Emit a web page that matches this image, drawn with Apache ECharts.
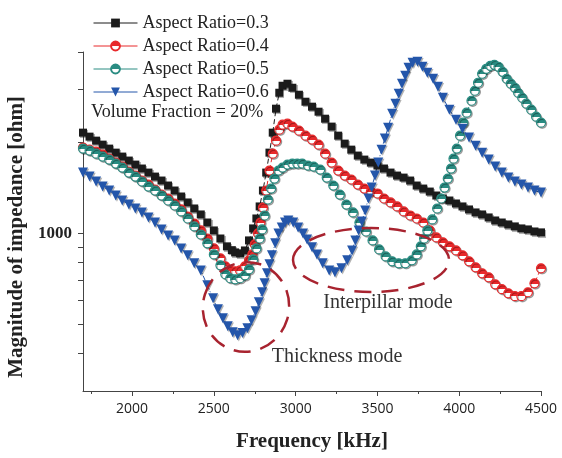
<!DOCTYPE html>
<html>
<head>
<meta charset="utf-8">
<script src="https://cdn.jsdelivr.net/npm/echarts@6/dist/echarts.min.js"></script>
<style>
  html, body { margin: 0; padding: 0; background: #fff; }
  #chart { width: 562px; height: 458px; }
</style>
</head>
<body>
<div id="chart"></div>
<script>
// ================= data (kHz / ohm) =================
const freq03 = [1700,1740,1780,1820,1860,1900,1940,1980,2020,2060,2100,2140,2180,2220,2260,2300,2340,2380,2420,2460,2500,2540,2580,
  2610,2630,2660,2690,2715,2740,2760,2780,2800,2820,2840,2860,2880,2900,2920,2950,2980,3020,3060,
  3100,3140,3180,3220,3260,3300,3340,3380,3420,3460,3500,3540,3580,3620,3660,3700,3740,3780,3820,3860,3900,3940,3980,4020,4060,4100,4140,4180,4220,4260,4300,4340,4380,4420,4460,4500]
const imp03 = [2160,2095,2032,1971,1912,1854,1799,1745,1692,1642,1592,1544,1498,1442,1388,1326,1267,1210,1156,1087,1023,962,906,
  880,865,859,878,948,1039,1121,1229,1388,1592,1854,2160,2594,2930,3091,3139,3044,2886,2736,
  2634,2535,2403,2262,2111,1986,1897,1813,1758,1718,1680,1642,1592,1556,1532,1498,1442,1409,1377,1336,1306,1286,1257,1229,1201,1174,1156,1130,1104,1087,1071,1055,1039,1031,1015,1008]

const freq04 = [1700,1740,1780,1820,1860,1900,1940,1980,2020,2060,2100,2140,2180,2220,2260,2300,2340,2380,2420,2460,2500,
  2540,2570,2600,2630,2660,2690,2715,2735,2750,2770,2785,2800,2820,2840,2860,2880,2900,2920,2950,2980,3020,3060,
  3100,3140,3180,3220,3260,3300,3340,3380,3420,3460,3500,3540,3580,3620,3660,3700,3740,3780,3820,3860,3900,3940,3980,4020,4060,4100,4140,4180,4220,4260,4300,4340,4380,4420,4460,4500]
const imp04 = [1927,1897,1868,1826,1771,1718,1667,1604,1556,1498,1453,1399,1346,1306,1257,1201,1138,1079,1023,962,892,
  827,778,754,749,754,778,814,852,920,1000,1087,1219,1388,1617,1840,2032,2210,2296,2313,2262,2193,2111,
  2048,1971,1840,1718,1617,1556,1510,1453,1409,1377,1357,1306,1267,1229,1183,1147,1121,1087,1023,970,934,906,878,846,808,772,737,715,678,653,633,619,619,638,683,766]

const freq05 = [1700,1740,1780,1820,1860,1900,1940,1980,2020,2060,2100,2140,2180,2220,2260,2300,2340,2380,2420,2460,2500,
  2540,2570,2600,2630,2660,2690,2715,2740,2760,2780,2795,2810,2830,2850,2870,2895,2920,2950,2980,3010,3040,3075,
  3110,3150,3190,3230,3270,3310,3350,3390,3430,3470,3510,3550,3590,3630,3670,3710,3740,3765,3785,
  3805,3835,3865,3890,3910,3930,3950,3965,3985,4005,4025,4045,4075,4095,4115,4140,4165,4190,4215,4240,4265,4290,4315,4340,4360,4385,4410,4440,4470,4500]
const imp05 = [1912,1883,1840,1799,1758,1705,1654,1592,1544,1487,1431,1388,1336,1286,1238,1183,1121,1055,992,927,852,
  784,732,710,704,710,726,760,820,892,962,1031,1147,1296,1409,1521,1617,1654,1692,1705,1705,1705,1680,
  1667,1629,1532,1442,1346,1247,1174,1087,1015,948,885,839,808,796,796,814,852,906,962,
  1023,1113,1210,1306,1420,1521,1642,1771,1912,2111,2331,2516,2756,2975,3162,3387,3518,3600,3628,3573,3439,3261,3139,3044,2930,2820,2695,2574,2440,2331]

const freq06 = [1700,1740,1780,1820,1860,1900,1940,1980,2020,2060,2100,2140,2180,2220,2260,2300,2340,2380,2420,
  2460,2495,2525,2555,2585,2615,2645,2675,2705,2730,2755,2775,2795,2810,2825,2840,2855,2875,2895,2915,2935,2955,2985,3015,3045,3070,
  3100,3130,3165,3205,3240,3280,3315,3345,3365,3385,3405,3425,3445,3465,3485,3505,3525,3545,3565,3590,3610,3630,3650,3670,3690,3715,3745,3775,3805,
  3840,3870,3900,3940,3980,4020,4060,4100,4140,4180,4220,4260,4300,4340,4380,4420,4460,4500]
const imp06 = [1592,1544,1487,1431,1388,1336,1286,1247,1210,1174,1130,1087,1031,985,948,892,846,796,754,
  673,609,560,523,492,470,459,467,485,515,552,591,638,683,737,790,846,927,1000,1047,1087,1104,1087,1047,1000,955,
  899,852,796,754,743,766,814,878,948,1023,1096,1192,1306,1420,1556,1718,1897,2064,2244,2496,2695,2908,3139,3336,3545,3684,3711,3573,3413,
  3261,3067,2820,2574,2385,2227,2080,1956,1854,1758,1667,1592,1532,1487,1453,1420,1388,1367]

const seriesNames = ['Aspect Ratio=0.3', 'Aspect Ratio=0.4', 'Aspect Ratio=0.5', 'Aspect Ratio=0.6']
const xTickLabels = [2000, 2500, 3000, 3500, 4000, 4500]
const xMinorTicks = [1750, 2250, 2750, 3250, 3750, 4250]
const yTickValues = [400, 500, 600, 700, 800, 900, 1000, 2000, 3000, 4000]
const yTickLabels = [1000]

// ================= helpers =================
const zip = (xs, ys) => xs.map((x, i) => [x, ys[i]])
const halfFill = (c) => new echarts.graphic.LinearGradient(0, 0, 0, 1, [
  { offset: 0, color: c }, { offset: 0.52, color: c },
  { offset: 0.52, color: '#fff' }, { offset: 1, color: '#fff' },
])
const markShadow = { shadowColor: 'rgba(0,0,0,0.3)', shadowOffsetX: 1.2, shadowOffsetY: 1.2, shadowBlur: 0.5 }
const plain = (v) => String(v)

const serif = 'Liberation Serif'
const chart = echarts.init(document.getElementById('chart'))

const option = {
  animation: false,
  backgroundColor: '#fff',
  grid: { left: 83, right: 21, top: 52, bottom: 67 },
  legend: {
    orient: 'vertical',
    left: 88,
    top: 9,
    itemWidth: 44,
    itemHeight: 11,
    itemGap: 5,
    textStyle: { fontFamily: serif, fontSize: 18, color: '#222' },
    lineStyle: { type: 'solid', width: 1 },
    data: seriesNames,
  },
  xAxis: [
    {
      type: 'value',
      min: 1700,
      max: 4500,
      name: 'Frequency [kHz]',
      nameLocation: 'middle',
      nameGap: 40,
      nameTextStyle: { fontFamily: serif, fontWeight: 'bold', fontSize: 21, color: '#222' },
      axisLine: { lineStyle: { color: '#444', width: 1 } },
      axisTick: { customValues: xTickLabels, length: 5, lineStyle: { color: '#444' } },
      axisLabel: { customValues: xTickLabels, formatter: plain, margin: 11, fontFamily: 'Open Sans', fontSize: 14, color: '#222' },
      splitLine: { show: false },
    },
    {
      // minor ticks only
      type: 'value',
      min: 1700,
      max: 4500,
      position: 'bottom',
      axisLine: { show: false },
      axisTick: { customValues: xMinorTicks, length: 3, lineStyle: { color: '#444' } },
      axisLabel: { show: false },
      splitLine: { show: false },
    },
  ],
  yAxis: {
    type: 'log',
    min: 300,
    max: 4000,
    axisLine: { show: true, lineStyle: { color: '#444', width: 1 } },
    axisTick: { show: true, customValues: yTickValues, length: 5, lineStyle: { color: '#444' } },
    axisLabel: { customValues: yTickLabels, formatter: plain, margin: 11, fontFamily: serif, fontWeight: 'bold', fontSize: 17, color: '#222' },
    splitLine: { show: false },
  },
  series: [
    {
      name: seriesNames[0], type: 'line', data: zip(freq03, imp03),
      symbol: 'rect', symbolSize: 8,
      itemStyle: { color: '#1b1b1b', ...markShadow },
      lineStyle: { color: '#1b1b1b', width: 1, type: [5, 3] },
    },
    {
      name: seriesNames[1], type: 'line', data: zip(freq04, imp04),
      symbol: 'circle', symbolSize: 9,
      itemStyle: { color: halfFill('#e8292b'), borderColor: '#e8292b', borderWidth: 1.2, ...markShadow },
      lineStyle: { color: '#e8292b', width: 1, type: [5, 3] },
    },
    {
      name: seriesNames[2], type: 'line', data: zip(freq05, imp05),
      symbol: 'circle', symbolSize: 9,
      itemStyle: { color: halfFill('#2a8c82'), borderColor: '#2a8c82', borderWidth: 1.2, ...markShadow },
      lineStyle: { color: '#2a8c82', width: 1, type: [2, 2] },
    },
    {
      name: seriesNames[3], type: 'line', data: zip(freq06, imp06),
      symbol: 'triangle', symbolSize: 10, symbolRotate: 180,
      itemStyle: { color: '#2456aa', ...markShadow },
      lineStyle: { color: '#2456aa', width: 1, type: [5, 2, 1, 2] },
    },
  ],
  graphic: [
    {
      type: 'text', left: 91, top: 103,
      style: { text: 'Volume Fraction = 20%', font: '18px "Liberation Serif"', fill: '#222' },
    },
    {
      type: 'text', x: 17, y: 237, rotation: Math.PI / 2,
      style: {
        text: 'Magnitude of impedance [ohm]', font: 'bold 21px "Liberation Serif"', fill: '#222',
        textAlign: 'center', textVerticalAlign: 'middle',
      },
    },
    {
      type: 'ellipse', x: 246, y: 307, rotation: -0.3, z: 10,
      shape: { cx: 0, cy: 0, rx: 43, ry: 45 },
      style: { fill: 'none', stroke: '#a8232f', lineWidth: 2.5, lineDash: [17, 10] },
    },
    {
      type: 'ellipse', x: 371, y: 260, z: 10,
      shape: { cx: 0, cy: 0, rx: 78, ry: 32 },
      style: { fill: 'none', stroke: '#a8232f', lineWidth: 2.5, lineDash: [17, 10] },
    },
    {
      type: 'text', x: 388, y: 303, z: 10,
      style: { text: 'Interpillar mode', font: '20px "Liberation Serif"', fill: '#333', textAlign: 'center', textVerticalAlign: 'middle' },
    },
    {
      type: 'text', x: 337, y: 357, z: 10,
      style: { text: 'Thickness mode', font: '20px "Liberation Serif"', fill: '#333', textAlign: 'center', textVerticalAlign: 'middle' },
    },
  ],
}

chart.setOption(option)
</script>
</body>
</html>
